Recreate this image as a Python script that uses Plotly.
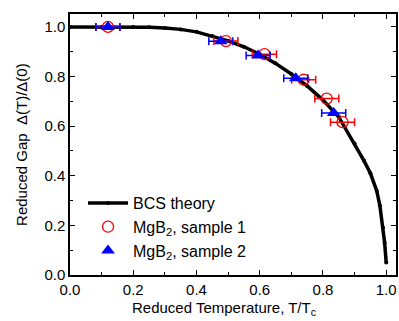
import plotly.graph_objects as go

# BCS theory curve
bcs_t = [0.0, 0.1, 0.2, 0.25, 0.3, 0.35, 0.4, 0.45, 0.5, 0.55, 0.6, 0.65, 0.7, 0.75,
         0.8, 0.85, 0.9, 0.93, 0.95, 0.97, 0.98, 0.99, 0.995, 1.0]
bcs_gap = [1.0, 1.0, 1.0, 0.999, 0.996, 0.99, 0.98, 0.963, 0.944, 0.92, 0.89, 0.853, 0.81, 0.762,
           0.705, 0.637, 0.53, 0.46, 0.41, 0.34, 0.28, 0.19, 0.13, 0.05]

# MgB2 sample 1
s1_t = [0.12, 0.493, 0.615, 0.739, 0.812, 0.862]
s1_gap = [1.0, 0.943, 0.890, 0.787, 0.711, 0.616]
s1_err = [0.038, 0.038, 0.038, 0.038, 0.038, 0.038]

# MgB2 sample 2
s2_t = [0.12, 0.477, 0.595, 0.714, 0.834]
s2_gap = [1.0, 0.942, 0.885, 0.793, 0.653]
s2_err = [0.038, 0.038, 0.038, 0.038, 0.038]

fig = go.Figure()
fig.add_trace(go.Scatter(
    x=bcs_t, y=bcs_gap, mode="lines+markers", name="BCS theory",
    line=dict(color="black", width=3.5), marker=dict(color="black", size=4)))
fig.add_trace(go.Scatter(
    x=s1_t, y=s1_gap, mode="markers", name="MgB<sub>2</sub>, sample 1",
    marker=dict(symbol="circle-open", color="red", size=11, line=dict(width=1.3, color="red")),
    error_x=dict(type="data", array=s1_err, color="red", thickness=1.5, width=4)))
fig.add_trace(go.Scatter(
    x=s2_t, y=s2_gap, mode="markers", name="MgB<sub>2</sub>, sample 2",
    marker=dict(symbol="triangle-up", color="blue", size=12),
    error_x=dict(type="data", array=s2_err, color="blue", thickness=1.5, width=4)))

axis_common = dict(
    showline=True, linecolor="black", linewidth=1.5, mirror="ticks",
    ticks="inside", ticklen=5, tickwidth=1.2, tickcolor="black",
    showgrid=False, zeroline=False, dtick=0.2, tickformat=".1f",
    tickfont=dict(family="Liberation Sans, Arial", size=15, color="black"),
    minor=dict(ticks="inside", ticklen=3, tickwidth=1, tickcolor="black", dtick=0.1),
)

fig.update_layout(
    width=399, height=321,
    margin=dict(l=70, r=1, t=14, b=46),
    paper_bgcolor="white", plot_bgcolor="white",
    font=dict(family="Liberation Sans, Arial", color="black"),
    showlegend=True,
    legend=dict(x=0.04, y=0.341, xanchor="left", yanchor="top",
                bgcolor="rgba(0,0,0,0)", font=dict(size=16), tracegroupgap=0,
                itemwidth=40),
    xaxis=dict(range=[0, 1.031], **axis_common),
    yaxis=dict(range=[0, 1.052], **axis_common),
    annotations=[
        dict(text="Reduced Temperature, T/T<sub>c</sub>", xref="paper", yref="paper",
             x=0.183, y=-0.130, xanchor="left", yanchor="middle", showarrow=False,
             font=dict(size=15)),
        dict(text="Reduced Gap  Δ(T)/Δ(0)", xref="paper", yref="paper",
             x=-0.149, y=0.5, xanchor="center", yanchor="middle", showarrow=False,
             textangle=-90, font=dict(size=15)),
    ],
)

fig.write_html(
    "out.html",
    config={"displayModeBar": False},
    post_script=("document.body.style.margin='0';"
                 "document.body.style.overflow='hidden';"
                 "document.documentElement.style.overflow='hidden';"),
)
